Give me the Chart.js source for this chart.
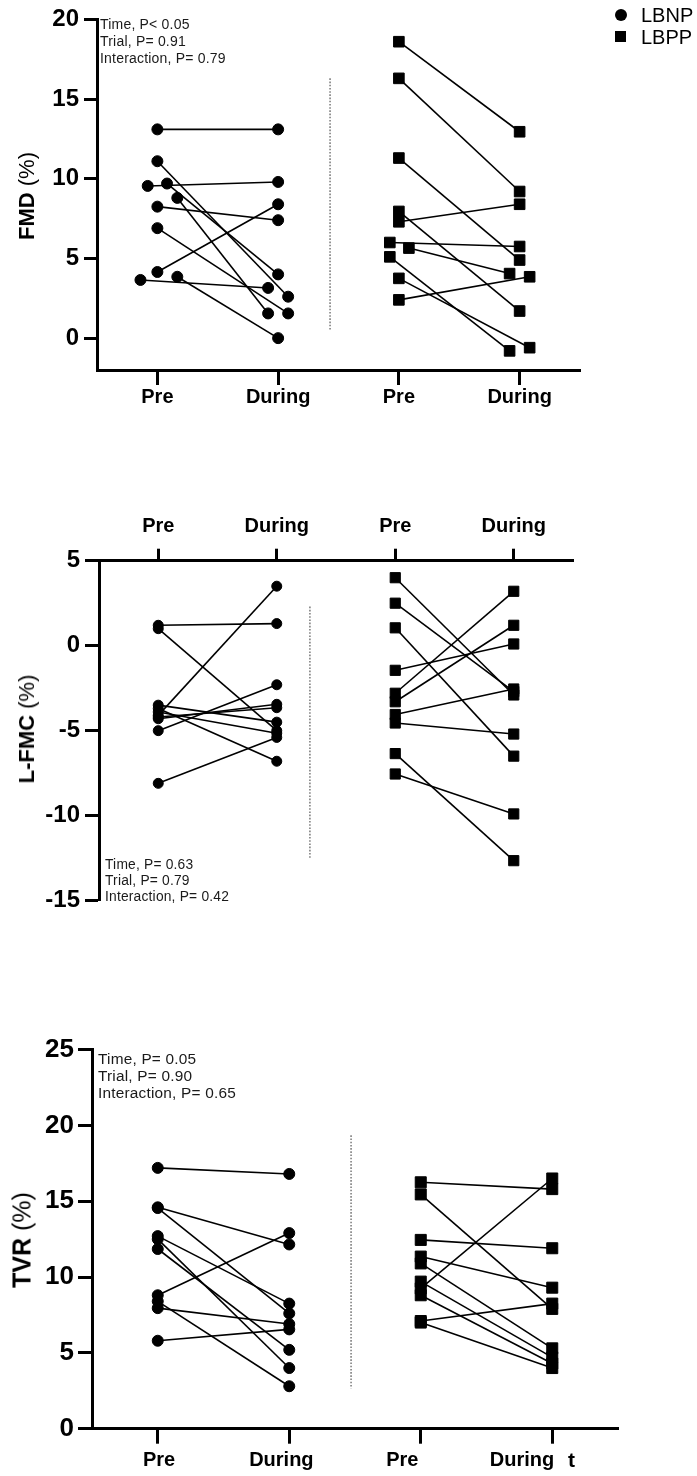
<!DOCTYPE html>
<html>
<head>
<meta charset="utf-8">
<script src="https://cdn.jsdelivr.net/npm/chart.js@4.4.0/dist/chart.umd.min.js"></script>
<style>
  html, body { margin: 0; padding: 0; background: #fff; }
  body { width: 697px; height: 1476px; position: relative; overflow: hidden;
         font-family: "Liberation Sans", Arial, sans-serif; }
  canvas { position: absolute; left: 0; }
  .ytitle { position: absolute; white-space: nowrap; color: #000; line-height: 1;
            transform: translate(-50%, -50%) rotate(-90deg); }
  .ytitle b { font-weight: bold; }
  .ytitle span { font-weight: normal; }
  .stats { position: absolute; color: #1a1a1a; white-space: nowrap; letter-spacing: 0.2px; }
  .legend { position: absolute; font-size: 20px; color: #000; line-height: 1; }
  .legend .mk { position: absolute; background: #000; }
  .stray { position: absolute; font-weight: bold; font-size: 21px; color: #000; line-height: 1; }
</style>
</head>
<body>

<canvas id="fmd" width="697" height="420" style="top:0px"></canvas>
<canvas id="lfmc" width="697" height="430" style="top:490px"></canvas>
<canvas id="tvr" width="697" height="446" style="top:1030px"></canvas>

<div class="ytitle" style="left:27px; top:196px; font-size:22px;"><b>FMD</b><span> (%)</span></div>
<div class="ytitle" style="left:27px; top:729px; font-size:22px;"><b>L-FMC</b><span> (%)</span></div>
<div class="ytitle" style="left:22px; top:1240px; font-size:25px;"><b>TVR</b><span> (%)</span></div>

<div class="stats" style="left:100px; top:16px; font-size:14px; line-height:17px;">Time, P&lt; 0.05<br>Trial, P= 0.91<br>Interaction, P= 0.79</div>
<div class="stats" style="left:105px; top:857px; font-size:13.8px; line-height:16px;">Time, P= 0.63<br>Trial, P= 0.79<br>Interaction, P= 0.42</div>
<div class="stats" style="left:98px; top:1050px; font-size:15.4px; line-height:17px;">Time, P= 0.05<br>Trial, P= 0.90<br>Interaction, P= 0.65</div>

<div class="legend" style="left:0; top:0; width:697px; height:50px;">
  <div class="mk" style="left:615px; top:9px; width:12px; height:12px; border-radius:50%;"></div>
  <div style="position:absolute; left:641px; top:5px;">LBNP</div>
  <div class="mk" style="left:615px; top:31px; width:11px; height:11px;"></div>
  <div style="position:absolute; left:641px; top:27px;">LBPP</div>
</div>

<div class="stray" style="left:568px; top:1449px;">t</div>

<script>
// ---- data ----
const xLabels = ['Pre', 'During', 'Pre', 'During'];

// FMD (%)
const fmdYTicks = [0, 5, 10, 15, 20];
const fmdLbnpPre    = [13.1, 11.1, 9.55, 9.7, 8.8, 8.25, 6.9, 4.15, 3.65, 3.85];
const fmdLbnpDuring = [13.1, 2.6, 9.8, 4.0, 1.55, 7.4, 1.55, 8.4, 3.15, 0.0];
const fmdLbppPre    = [18.6, 16.3, 11.3, 7.95, 7.3, 6.0, 5.65, 5.1, 3.75, 2.4];
const fmdLbppDuring = [12.95, 9.2, 4.9, 1.7, 8.4, 5.75, 4.05, -0.8, -0.6, 3.85];

// L-FMC (%)
const lfmcYTicks = [-15, -10, -5, 0, 5];
const lfmcLbnpPre    = [1.2, 1.0, -5.0, -8.1, -4.1, -3.5, -3.7, -4.3, -4.2, -3.9];
const lfmcLbnpDuring = [1.3, -5.0, -2.3, -5.4, 3.5, -4.5, -6.8, -3.45, -3.65, -5.15];
const lfmcLbppPre    = [4.0, 2.5, 1.05, -1.45, -2.8, -3.3, -4.05, -4.55, -6.35, -7.55];
const lfmcLbppDuring = [-2.9, -2.7, -6.5, 0.1, 3.2, 1.2, -2.55, -5.2, -12.65, -9.9];

// TVR (%)
const tvrYTicks = [0, 5, 10, 15, 20, 25];
const tvrLbnpPre    = [17.2, 14.6, 14.55, 12.7, 12.5, 11.85, 8.8, 8.4, 7.95, 5.8];
const tvrLbnpDuring = [16.8, 12.15, 7.6, 8.25, 4.0, 5.2, 12.9, 2.8, 6.9, 6.55];
const tvrLbppPre    = [16.25, 15.45, 12.45, 11.35, 10.9, 9.7, 9.25, 8.8, 7.1, 7.0];
const tvrLbppDuring = [15.8, 7.9, 11.9, 9.3, 5.3, 4.7, 16.5, 4.3, 8.25, 4.0];

// ---- drawing setup ----
// small sideways nudges so overlapping points stay visible (x-axis units)
const fmdNudge = {
  lbnpPre:    [0, 0, -0.08, 0.08, 0.165, 0, 0, 0, -0.14, 0.165],
  lbnpDuring: [0, 0.083, 0, 0, -0.083, 0, 0.083, 0, -0.083, 0],
  lbppPre:    [0, 0, 0, 0, 0, -0.075, 0.083, -0.075, 0, 0],
  lbppDuring: [0, 0, 0, 0, 0, 0, -0.083, -0.083, 0.083, 0.083]
};

const FONT = '"Liberation Sans", Arial, sans-serif';

function pairedLines(pre, during, xPre, xDur, nPre, nDur, style, radius) {
  return pre.map((v, i) => ({
    data: [
      { x: xPre + (nPre ? nPre[i] : 0), y: v },
      { x: xDur + (nDur ? nDur[i] : 0), y: during[i] }
    ],
    showLine: true,
    borderColor: '#000',
    borderWidth: 1.6,
    backgroundColor: '#000',
    pointBackgroundColor: '#000',
    pointBorderColor: '#000',
    pointBorderWidth: 1,
    pointStyle: style,
    pointRadius: radius,
    pointHoverRadius: radius,
    clip: false
  }));
}

function divider(x, from, to) {
  return {
    data: [{ x: x, y: from }, { x: x, y: to }],
    showLine: true,
    borderColor: '#555',
    borderWidth: 1.2,
    borderDash: [1.6, 1.6],
    pointRadius: 0,
    pointHoverRadius: 0
  };
}

function panel(id, o) {
  const tickFont = { family: FONT, weight: 'bold', size: 20 };
  const scales = {
    x: {
      type: 'linear',
      position: o.xPos,
      weight: 0,
      min: 0.5, max: 4.5,
      afterBuildTicks: s => { s.ticks = [1, 2, 3, 4].map(v => ({ value: v })); },
      afterFit: s => { s.height = o.labelAt ? o.xTick : o.xHeight; },
      ticks: {
        display: !o.labelAt,
        callback: (v, i) => xLabels[i],
        font: tickFont,
        color: '#000',
        padding: o.xPad,
        maxRotation: 0,
        autoSkip: false
      },
      grid: { drawOnChartArea: false, drawTicks: true, tickLength: o.xTick,
              tickWidth: 3, tickColor: '#000', color: '#000' },
      border: { display: true, color: '#000', width: 3 }
    },
    y: {
      type: 'linear',
      min: o.yMin, max: o.yMax,
      afterBuildTicks: s => { s.ticks = o.yTicks.map(v => ({ value: v })); },
      afterFit: s => { s.width = o.yWidth; },
      ticks: {
        font: { family: FONT, weight: 'bold', size: o.yFont },
        color: '#000',
        padding: o.yPad
      },
      grid: { drawOnChartArea: false, drawTicks: true, tickLength: o.yTick,
              tickWidth: 3, tickColor: '#000', color: '#000' },
      border: { display: true, color: '#000', width: 3 }
    }
  };
  if (o.labelAt) {
    // category names set a little apart from their tick marks
    scales.xLabels = {
      type: 'linear',
      position: o.xPos,
      weight: 1,
      min: 0.5, max: 4.5,
      afterBuildTicks: s => { s.ticks = o.labelAt.map(v => ({ value: v })); },
      afterFit: s => { s.height = o.xHeight - o.xTick; },
      ticks: {
        callback: (v, i) => xLabels[i],
        font: tickFont,
        color: '#000',
        padding: o.xPad,
        maxRotation: 0,
        autoSkip: false
      },
      grid: { display: false, drawTicks: false },
      border: { display: false }
    };
  }
  new Chart(document.getElementById(id), {
    type: 'scatter',
    data: { datasets: o.datasets },
    options: {
      responsive: false,
      animation: false,
      devicePixelRatio: 1,
      events: [],
      layout: { padding: o.padding },
      plugins: { legend: { display: false }, tooltip: { enabled: false } },
      scales: scales
    }
  });
}

panel('fmd', {
  datasets: [
    divider(2.43, 16.3, 0.5),
    ...pairedLines(fmdLbnpPre, fmdLbnpDuring, 1, 2, fmdNudge.lbnpPre, fmdNudge.lbnpDuring, 'circle', 5.5),
    ...pairedLines(fmdLbppPre, fmdLbppDuring, 3, 4, fmdNudge.lbppPre, fmdNudge.lbppDuring, 'rect', 7.5)
  ],
  padding: { left: 0, right: 117, top: 19, bottom: 0 },
  xPos: 'bottom', xHeight: 50, xTick: 15, xPad: 0,
  yMin: -2, yMax: 20, yTicks: fmdYTicks, yWidth: 97, yFont: 24, yTick: 13, yPad: 5
});

panel('lfmc', {
  datasets: [
    divider(2.28, 2.3, -12.55),
    ...pairedLines(lfmcLbnpPre, lfmcLbnpDuring, 1, 2, null, null, 'circle', 5),
    ...pairedLines(lfmcLbppPre, lfmcLbppDuring, 3, 4, null, null, 'rect', 7.2)
  ],
  padding: { left: 0, right: 124, top: 0, bottom: 18.3 },
  xPos: 'top', xHeight: 70.7, xTick: 12, xPad: 10,
  yMin: -15, yMax: 5, yTicks: lfmcYTicks, yWidth: 99, yFont: 24, yTick: 14, yPad: 5
});

panel('tvr', {
  datasets: [
    divider(2.47, 19.35, 2.66),
    ...pairedLines(tvrLbnpPre, tvrLbnpDuring, 1, 2, null, null, 'circle', 5.5),
    ...pairedLines(tvrLbppPre, tvrLbppDuring, 3, 4, null, null, 'rect', 7.8)
  ],
  padding: { left: 0, right: 79, top: 19.3, bottom: 0 },
  xPos: 'bottom', xHeight: 47.3, xTick: 15, xPad: 5,
  labelAt: [1.01, 1.94, 2.86, 3.77],
  yMin: 0, yMax: 25, yTicks: tvrYTicks, yWidth: 92, yFont: 26, yTick: 14, yPad: 4
});
</script>
</body>
</html>
